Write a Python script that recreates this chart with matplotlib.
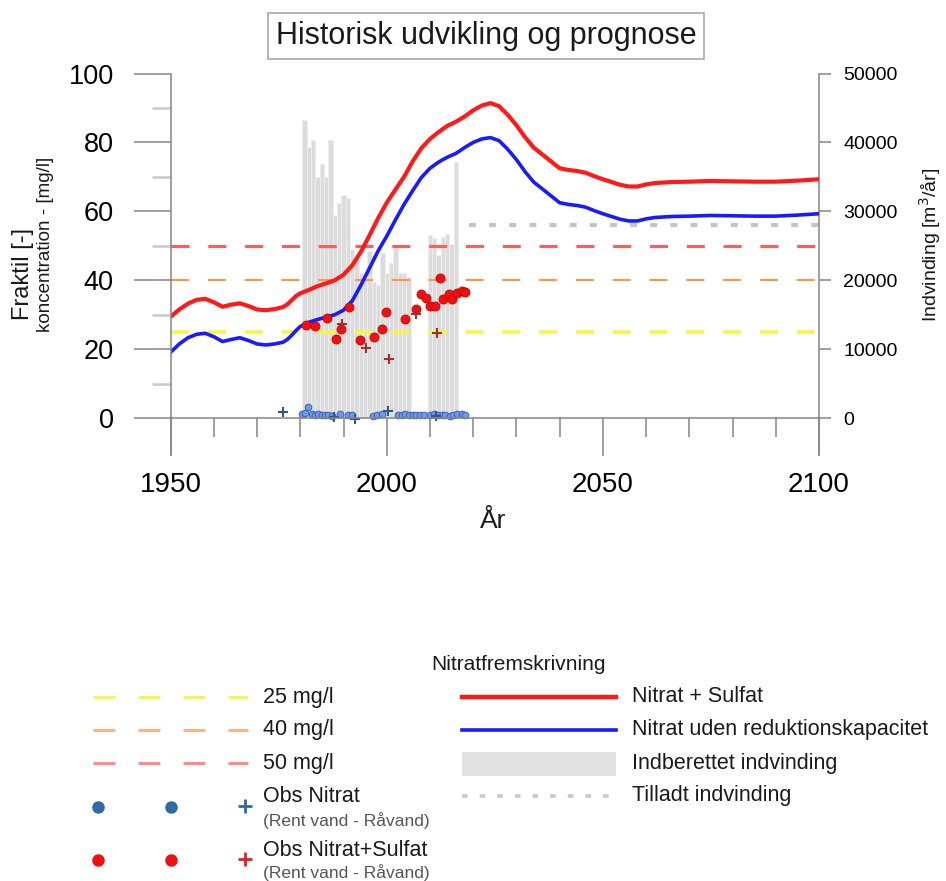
import numpy as np
import matplotlib.pyplot as plt

# modelled concentration curves (mg/l)
years_curve = [1950, 1952, 1954, 1956, 1958, 1960, 1962, 1964, 1966, 1968, 1970, 1972, 1974,
               1976, 1977, 1978, 1979, 1980, 1982, 1984, 1986, 1988, 1990, 1992, 1994, 1996,
               1998, 2000, 2002, 2004, 2006, 2008, 2010, 2012, 2014, 2016, 2018, 2020, 2022,
               2024, 2026, 2028, 2030, 2032, 2034, 2036, 2038, 2040, 2042, 2044, 2046, 2048,
               2050, 2052, 2054, 2056, 2058, 2060, 2062, 2066, 2070, 2075, 2080, 2085, 2090,
               2095, 2100]
nitrat_sulfat = [29.4, 31.5, 33.2, 34.3, 34.6, 33.6, 32.3, 32.9, 33.3, 32.5, 31.5, 31.3, 31.6,
                 32.2, 33.0, 34.2, 35.4, 36.2, 37.2, 38.3, 39.1, 40.0, 41.6, 44.3, 48.2, 53.0,
                 58.0, 62.5, 66.3, 70.0, 74.5, 78.3, 81.0, 83.0, 84.8, 86.0, 87.5, 89.3, 90.7,
                 91.4, 90.5, 88.0, 85.0, 81.5, 78.5, 76.5, 74.5, 72.5, 72.0, 71.7, 71.2, 70.2,
                 69.3, 68.5, 67.7, 67.2, 67.2, 67.8, 68.2, 68.5, 68.6, 68.8, 68.7, 68.6, 68.6,
                 68.9, 69.3]
nitrat_uden = [19.1, 21.5, 23.3, 24.3, 24.6, 23.6, 22.2, 22.8, 23.3, 22.5, 21.5, 21.2, 21.5,
               22.0, 22.8, 24.0, 25.4, 26.6, 27.8, 28.6, 29.3, 30.0, 31.3, 34.0, 38.5, 43.5,
               48.5, 52.8, 57.5, 62.0, 66.0, 69.8, 72.5, 74.3, 75.7, 76.8, 78.5, 80.0, 81.0,
               81.4, 80.5, 78.0, 75.0, 71.5, 68.5, 66.5, 64.5, 62.5, 62.0, 61.7, 61.2, 60.2,
               59.3, 58.5, 57.7, 57.2, 57.2, 57.8, 58.2, 58.5, 58.6, 58.8, 58.7, 58.6, 58.6,
               58.9, 59.3]

# reported abstraction (m3/yr)
bar_years = [1981, 1982, 1983, 1984, 1985, 1986, 1987, 1988, 1989, 1990, 1991, 1992, 1993,
             1994, 1995, 1996, 1997, 1998, 1999, 2000, 2001, 2002, 2003, 2004, 2005,
             2010, 2011, 2012, 2013, 2014, 2015, 2016]
bar_values = [43200, 39300, 40400, 35000, 36900, 35000, 40300, 29400, 31200, 32300, 32000,
              24500, 23400, 21000, 20500, 24300, 19800, 19300, 23900, 21000, 22500, 24800,
              21000, 21000, 20500,
              26500, 26100, 23600, 26300, 26700, 25200, 37200]

# permitted abstraction (m3/yr)
tilladt_years = [2019, 2100]
tilladt_values = [28000, 28000]

# thresholds (mg/l)
limits = [25, 40, 50]

# observations, nitrate + sulfate
obs_ns_years = [1981.3, 1983.4, 1986.1, 1988.2, 1989.3, 1991.3, 1993.8, 1997.1, 1998.8, 1999.8,
                2004.2, 2006.8, 2007.9, 2009.1, 2010.0, 2011.2, 2012.3, 2013.1, 2014.3, 2015.2,
                2016.2, 2017.4, 2018.1]
obs_ns_values = [27.0, 26.8, 29.1, 22.8, 25.7, 32.1, 22.6, 23.4, 25.7, 30.8,
                 28.6, 31.7, 35.9, 34.7, 32.6, 32.6, 40.5, 34.5, 35.9, 34.5,
                 36.3, 36.9, 36.7]
obs_ns_raw_years = [1989.7, 1995.1, 2000.5, 2006.8, 2011.6]
obs_ns_raw_values = [27.4, 20.2, 17.0, 30.3, 24.8]

# observations, nitrate
obs_n_years = [1980.3, 1981.1, 1981.7, 1982.6, 1983.4, 1984.2, 1985.0, 1985.7, 1986.5, 1987.3,
               1989.2, 1991.1, 1991.9, 1996.9, 1997.7, 1998.8, 2002.7, 2003.5, 2004.2, 2005.2,
               2006.0, 2006.8, 2007.7, 2008.6, 2010.0, 2010.9, 2011.9, 2012.7, 2013.5, 2014.7,
               2015.4, 2016.2, 2017.4, 2018.1]
obs_n_values = [1.3, 1.5, 3.2, 1.2, 1.0, 1.1, 0.9, 1.0, 0.8, 0.7,
                1.2, 0.9, 1.0, 0.6, 0.8, 1.1, 1.0, 0.9, 1.1, 0.9,
                1.0, 0.9, 0.8, 1.0, 0.9, 1.1, 0.8, 1.0, 0.9, 0.7,
                1.0, 1.2, 1.1, 0.9]
obs_n_raw_years = [1975.9, 1987.8, 1992.6, 2000.4, 2011.4]
obs_n_raw_values = [1.8, 0.3, -0.3, 2.0, 0.6]

GREY = '#858585'
FONT = ['Liberation Sans', 'DejaVu Sans']


def main():
    plt.rcParams['font.family'] = FONT
    plt.rcParams['lines.scale_dashes'] = False
    plt.rcParams['text.color'] = '#1a1a1a'

    fig = plt.figure(figsize=(9.46, 8.81), dpi=100)
    ax = fig.add_axes([0.1804, 0.48445, 0.6853, 0.43212])
    ax2 = ax.twinx()
    ax2.set_zorder(0)
    ax.set_zorder(1)
    ax.patch.set_visible(False)

    # bars on the right axis
    ax2.bar(bar_years, bar_values, width=1.0, color='#dcdcdc', edgecolor='#ededed', linewidth=0.8)
    ax2.plot(tilladt_years, tilladt_values, color='#c4c4c4', lw=3, dashes=(5, 9.5))

    # limit lines
    ax.plot([1950, 2100], [limits[0]] * 2, color='#f7f545', lw=2.6, dashes=(13, 13.5))
    ax.plot([1950, 2100], [limits[1]] * 2, color='#ff9645', lw=1.5, dashes=(13, 13.5))
    ax.plot([1950, 2100], [limits[2]] * 2, color='#ff5c5c', lw=2.2, dashes=(13, 13.5))

    ax.plot(years_curve, nitrat_sulfat, color='#ff1a1a', lw=3.0, solid_capstyle='round')
    ax.plot(years_curve, nitrat_uden, color='#1a1aff', lw=2.6, solid_capstyle='round')

    ax.plot(obs_ns_years, obs_ns_values, 'o', ms=6.5, color='#ee1111', mec='#cc0000', mew=0.6)
    ax.plot(obs_ns_raw_years, obs_ns_raw_values, '+', ms=7, color='#a03030', mew=1.5)
    ax.plot(obs_n_years, obs_n_values, 'o', ms=4.8, color='#6f9ae6', mec='#3b63b5', mew=0.7)
    ax.plot(obs_n_raw_years, obs_n_raw_values, '+', ms=6.5, color='#33558f', mew=1.5)

    # axes
    ax.set_xlim(1950, 2100)
    ax.set_ylim(-10.5, 100)
    ax2.set_ylim(-5250, 50000)

    ax.spines['top'].set_visible(False)
    ax.spines['right'].set_visible(False)
    ax.spines['bottom'].set_position(('data', 0))
    for s in ['left', 'bottom']:
        ax.spines[s].set_color(GREY)
        ax.spines[s].set_linewidth(1.1)
    for s in ['left', 'top', 'bottom']:
        ax2.spines[s].set_visible(False)
    ax2.spines['right'].set_color(GREY)
    ax2.spines['right'].set_linewidth(1.1)

    ax.set_xticks([1950, 2000, 2050, 2100])
    ax.set_xticks(np.arange(1960, 2100, 10), minor=True)
    ax.set_yticks([0, 20, 40, 60, 80, 100])
    ax.set_yticks([10, 30, 50, 70, 90], minor=True)
    ax2.set_yticks([0, 10000, 20000, 30000, 40000, 50000])

    ax.tick_params(axis='x', which='major', direction='out', length=27, width=1.1, color=GREY,
                   pad=12, labelsize=20)
    ax.tick_params(axis='x', which='minor', direction='out', length=13.5, width=1.1, color=GREY)
    ax.tick_params(axis='y', which='major', direction='out', length=27, width=1.1, color=GREY,
                   pad=14, labelsize=19.5)
    ax.tick_params(axis='y', which='minor', direction='out', length=13.5, width=1.8,
                   color='#c8c8c8')
    ax2.tick_params(axis='y', direction='out', length=8.5, width=1.1, color=GREY, pad=9,
                    labelsize=14)

    # titles and labels
    fig.text(0.5137, 1 - 36 / 881, 'Historisk udvikling og prognose', fontsize=22,
             ha='center', va='center',
             bbox=dict(boxstyle='square,pad=0.25', fc='white', ec='#a8a8a8', lw=1.2))
    fig.text(23 / 946, 1 - 274 / 881, 'Fraktil [-]', fontsize=17, rotation=90,
             ha='center', va='center')
    fig.text(46 / 946, 1 - 244 / 881, 'koncentration - [mg/l]', fontsize=13.5, rotation=90,
             ha='center', va='center')
    fig.text(930 / 946, 1 - 245 / 881, 'Indvinding [m$^3$/år]', fontsize=14, rotation=90,
             ha='center', va='center')
    fig.text(493 / 946, 1 - 521 / 881, 'År', fontsize=19, ha='center', va='center')

    # legend drawn in pixel coordinates
    lax = fig.add_axes([0, 0, 1, 1])
    lax.set_xlim(0, 946)
    lax.set_ylim(881, 0)
    lax.axis('off')
    lax.set_facecolor('none')

    lax.text(518, 664, 'Nitratfremskrivning', fontsize=15, ha='center', va='center')

    lax.plot([93, 248], [697, 697], color='#f8f64c', lw=2.2, dashes=(15.8, 16.6))
    lax.plot([93, 248], [730, 730], color='#ffb285', lw=2.2, dashes=(15.8, 16.6))
    lax.plot([93, 248], [763, 763], color='#ff8a8a', lw=2.2, dashes=(15.8, 16.6))
    lax.text(263, 697, '25 mg/l', fontsize=15.5, va='center')
    lax.text(263, 730, '40 mg/l', fontsize=15.5, va='center')
    lax.text(263, 763, '50 mg/l', fontsize=15.5, va='center')

    lax.plot([98, 171], [807, 807], 'o', ms=8, color='#2f6aa3', mec='#2f6aa3')
    lax.plot([245], [806], '+', ms=9.5, color='#2f6aa3', mew=2)
    lax.text(263, 797, 'Obs Nitrat', fontsize=15.5, va='center')
    lax.text(263, 821, '(Rent vand - Råvand)', fontsize=12.5, va='center', color='#555555')

    lax.plot([98, 171], [860, 860], 'o', ms=8, color='#ee1111', mec='#ee1111')
    lax.plot([245], [859], '+', ms=9.5, color='#dd2222', mew=2)
    lax.text(263, 850, 'Obs Nitrat+Sulfat', fontsize=15.5, va='center')
    lax.text(263, 873, '(Rent vand - Råvand)', fontsize=12.5, va='center', color='#555555')

    lax.plot([462, 616], [697, 697], color='#ff1a1a', lw=3.2)
    lax.plot([462, 616], [730, 730], color='#1a1aff', lw=2.6)
    lax.fill_between([462, 616], 752, 776, color='#e2e2e2', lw=0)
    lax.plot([462, 610], [796, 796], color='#c8c8c8', lw=2.6, dashes=(4, 8.7))
    lax.text(632, 697, 'Nitrat + Sulfat', fontsize=15.5, va='center')
    lax.text(632, 730, 'Nitrat uden reduktionskapacitet', fontsize=15.5, va='center')
    lax.text(632, 764, 'Indberettet indvinding', fontsize=15.5, va='center')
    lax.text(632, 796, 'Tilladt indvinding', fontsize=15.5, va='center')

    fig.savefig('out.png', dpi=100)


if __name__ == "__main__":
    main()
